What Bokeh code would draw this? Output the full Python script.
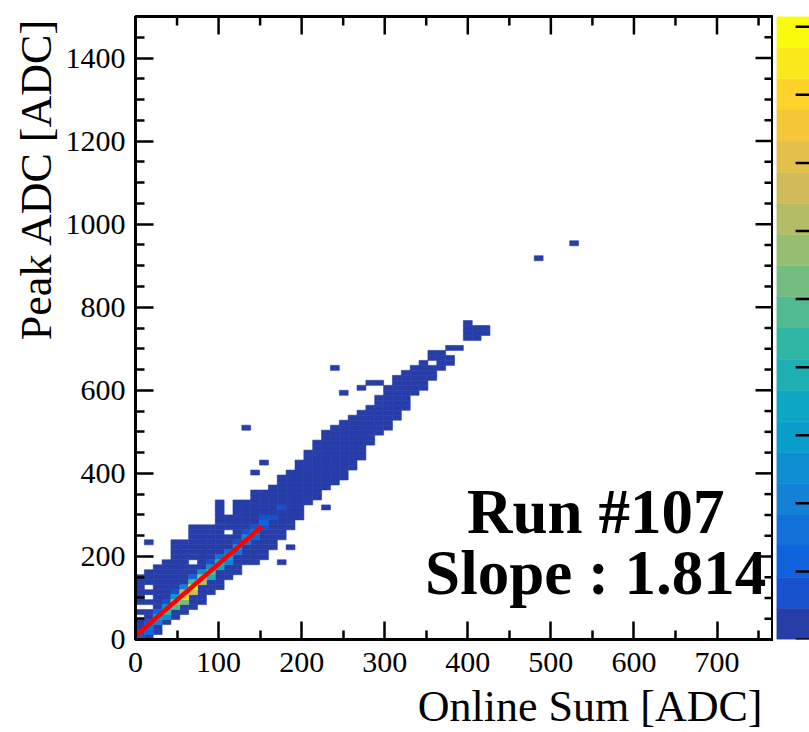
import numpy as np
from bokeh.plotting import figure
from bokeh.models import (ColumnDataSource, LinearColorMapper, FixedTicker,
                          Label, Range1d, Title)
from bokeh.layouts import row
from bokeh.embed import file_html
from bokeh.resources import INLINE

# ---------------- data ----------------
x_range_max = 768.0
y_range_max = 1500.0
x_bin = 768.0 / 72      # ADC per x bin
y_bin = 12.0            # ADC per y bin
z_max = 91.5
n_contours = 20

x_ticks = [0, 100, 200, 300, 400, 500, 600, 700]
x_minor = [50, 150, 250, 350, 450, 550, 650, 750]
y_ticks = [0, 200, 400, 600, 800, 1000, 1200, 1400]
y_minor = [50, 100, 150, 250, 300, 350, 450, 500, 550, 650, 700, 750, 850, 900,
           950, 1050, 1100, 1150, 1250, 1300, 1350, 1450]
z_ticks = [0, 10, 20, 30, 40, 50, 60, 70, 80, 90]

# filled y-bin range of the band for x-bins 0..39
band_lo = [0, 0, 1, 3, 4, 5, 6, 7, 9, 10, 12, 13, 15, 15, 16, 18, 20, 22, 24, 27,
           28, 30, 31, 32, 34, 36, 39, 41, 42, 44, 46, 49, 50, 52, 54, 55, 57, 60, 60, 61]
band_hi = [12, 13, 14, 15, 19, 19, 22, 22, 22, 27, 24, 27, 27, 29, 29, 30, 32, 33, 35, 37,
           39, 40, 42, 43, 44, 45, 46, 48, 50, 52, 53, 54, 55, 57, 57, 58, 58, 63, 62, 62]
base_count = 2

hole_ix = [1, 1, 1, 10, 6, 0, 0, 33, 35, 36]
hole_iy = [10, 8, 6, 21, 15, 6, 4, 55, 57, 57]

iso_ix = [1, 12, 13, 14, 16, 17, 21, 21, 22, 23, 25, 26, 27, 45, 49]
iso_iy = [19, 42, 33, 35, 15, 18, 26, 41, 54, 49, 50, 51, 51, 76, 79]
iso_n = [2] * 15

core_ix = [0, 0, 1, 1, 1, 2, 2, 2, 3, 3, 3, 3, 4, 4, 4, 4, 5, 5, 5, 5, 6, 6, 6, 6,
           7, 7, 7, 8, 8, 8, 8, 9, 9, 9, 10, 10, 10, 11, 11, 11, 12, 12, 12,
           13, 13, 13, 14, 14, 14, 15, 16]
core_iy = [0, 1, 1, 2, 3, 3, 4, 5, 4, 5, 6, 7, 6, 7, 8, 9, 7, 8, 9, 10, 9, 10, 11, 12,
           11, 12, 13, 12, 13, 14, 15, 14, 15, 16, 15, 16, 17, 17, 18, 19, 19, 20, 21,
           20, 21, 22, 22, 23, 24, 24, 26]
core_n = [8, 6, 12, 16, 7, 22, 30, 10, 26, 42, 24, 8, 48, 64, 30, 9, 52, 80, 62, 22,
          66, 87, 46, 12, 64, 56, 26, 38, 50, 24, 8, 34, 40, 16, 20, 32, 14, 18, 24, 9,
          15, 22, 8, 10, 18, 7, 8, 12, 6, 6, 5]

fit_x = [2, 152]
fit_y = [12, 272]

run_text = "Run #107"
slope_text = "Slope : 1.814"
x_title = "Online Sum [ADC]"
y_title = "Peak ADC [ADC]"

# ---------------- palette (ROOT kBird, 20 contours) ----------------
stops = np.linspace(0, 1, 9)
red = [0.2082, 0.0592, 0.0780, 0.0232, 0.1802, 0.5301, 0.8186, 0.9956, 0.9764]
green = [0.1664, 0.3599, 0.5041, 0.6419, 0.7178, 0.7492, 0.7328, 0.7862, 0.9832]
blue = [0.5293, 0.8684, 0.8385, 0.7914, 0.6425, 0.4662, 0.3499, 0.1968, 0.0539]
pal255 = []
for k in range(255):
    t = k / 254.0
    r = np.interp(t, stops, red); g = np.interp(t, stops, green); b = np.interp(t, stops, blue)
    pal255.append("#%02x%02x%02x" % (int(r * 255 + 0.5), int(g * 255 + 0.5), int(b * 255 + 0.5)))
palette = [pal255[int((i + 0.99) * 255 / n_contours)] for i in range(n_contours)]
mapper = LinearColorMapper(palette=palette, low=0, high=z_max)

# ---------------- build cells ----------------
cells = {}
holes = set(zip(hole_ix, hole_iy))
for i, (lo, hi) in enumerate(zip(band_lo, band_hi)):
    for j in range(lo, hi + 1):
        if (i, j) not in holes:
            cells[(i, j)] = base_count
for i, j, n in zip(iso_ix, iso_iy, iso_n):
    cells[(i, j)] = n
for i, j, n in zip(core_ix, core_iy, core_n):
    cells[(i, j)] = n
keys = sorted(cells.keys(), key=lambda k: cells[k])
src = ColumnDataSource(dict(
    left=[k[0] * x_bin for k in keys],
    right=[(k[0] + 1) * x_bin for k in keys],
    bottom=[k[1] * y_bin for k in keys],
    top=[(k[1] + 1) * y_bin for k in keys],
    n=[cells[k] for k in keys],
))

FONT = "Liberation Serif"
FW, FH = 638, 623
MAJ, MIN = 18, 9

p = figure(output_backend="svg", toolbar_location=None,
           frame_width=FW, frame_height=FH,
           min_border_left=135, min_border_right=0, min_border_top=16, min_border_bottom=80,
           x_range=Range1d(0, x_range_max), y_range=Range1d(0, y_range_max),
           background_fill_color="white", border_fill_color="white")
p.grid.visible = False
p.outline_line_color = "black"
p.outline_line_width = 3

p.quad(left="left", right="right", bottom="bottom", top="top", source=src,
       fill_color={"field": "n", "transform": mapper},
       line_color={"field": "n", "transform": mapper}, line_width=0.6)
p.line(fit_x, fit_y, line_color="#ff0000", line_width=4.5)

# ticks on the top and right edges (pointing inward)
ux = x_range_max / FW
uy = y_range_max / FH
top_x = x_ticks + x_minor
top_len = [MAJ * uy] * len(x_ticks) + [MIN * uy] * len(x_minor)
p.segment(x0=top_x, x1=top_x, y0=[y_range_max] * len(top_x),
          y1=[y_range_max - L for L in top_len], line_color="black", line_width=2.5)
right_y = y_ticks + y_minor
right_len = [MAJ * ux] * len(y_ticks) + [MIN * ux] * len(y_minor)
p.segment(x0=[x_range_max] * len(right_y), x1=[x_range_max - L for L in right_len],
          y0=right_y, y1=right_y, line_color="black", line_width=2.5)

p.xaxis.ticker = FixedTicker(ticks=x_ticks, minor_ticks=x_minor)
p.yaxis.ticker = FixedTicker(ticks=y_ticks, minor_ticks=y_minor)
for ax in [p.xaxis[0], p.yaxis[0]]:
    ax.axis_line_width = 3
    ax.axis_line_color = "black"
    ax.major_tick_line_width = 2.5
    ax.minor_tick_line_width = 2.5
    ax.major_tick_in = MAJ
    ax.major_tick_out = 0
    ax.minor_tick_in = MIN
    ax.minor_tick_out = 0
    ax.major_label_text_font = FONT
    ax.major_label_text_font_size = "30px"
    ax.major_label_text_color = "black"
p.xaxis[0].major_label_standoff = 13
p.yaxis[0].major_label_standoff = 10

p.add_layout(Title(text=x_title, align="right", offset=11, standoff=10,
                   text_font=FONT, text_font_size="44px", text_font_style="normal",
                   text_color="black"), "below")
p.add_layout(Title(text=y_title, align="right", offset=1, standoff=4,
                   text_font=FONT, text_font_size="44px", text_font_style="normal",
                   text_color="black"), "left")

p.add_layout(Label(x=554, y=306, text=run_text, text_font=FONT, text_font_size="63px",
                   text_font_style="bold", text_align="center", text_baseline="alphabetic",
                   text_color="black"))
p.add_layout(Label(x=554, y=161, text=slope_text, text_font=FONT, text_font_size="63px",
                   text_font_style="bold", text_align="center", text_baseline="alphabetic",
                   text_color="black"))

# ---------------- colour bar (partially visible, as in the reference) ----------------
band_edges = [z_max * k / n_contours for k in range(n_contours + 1)]
cb = figure(output_backend="svg", toolbar_location=None,
            frame_width=33, frame_height=FH,
            min_border_left=3, min_border_right=0, min_border_top=16, min_border_bottom=80,
            x_range=Range1d(0, 1), y_range=Range1d(0, z_max),
            background_fill_color="white", border_fill_color="white")
cb.grid.visible = False
cb.axis.visible = False
cb.outline_line_color = None
cb.quad(left=0, right=1, bottom=band_edges[:-1], top=band_edges[1:],
        fill_color=palette, line_color=palette, line_width=0.5)
cb.segment(x0=[0.58] * len(z_ticks), x1=[1.0] * len(z_ticks), y0=z_ticks, y1=z_ticks,
           line_color="black", line_width=2.5)

layout = row(p, cb)
open("out.html", "w").write(file_html(layout, INLINE))
